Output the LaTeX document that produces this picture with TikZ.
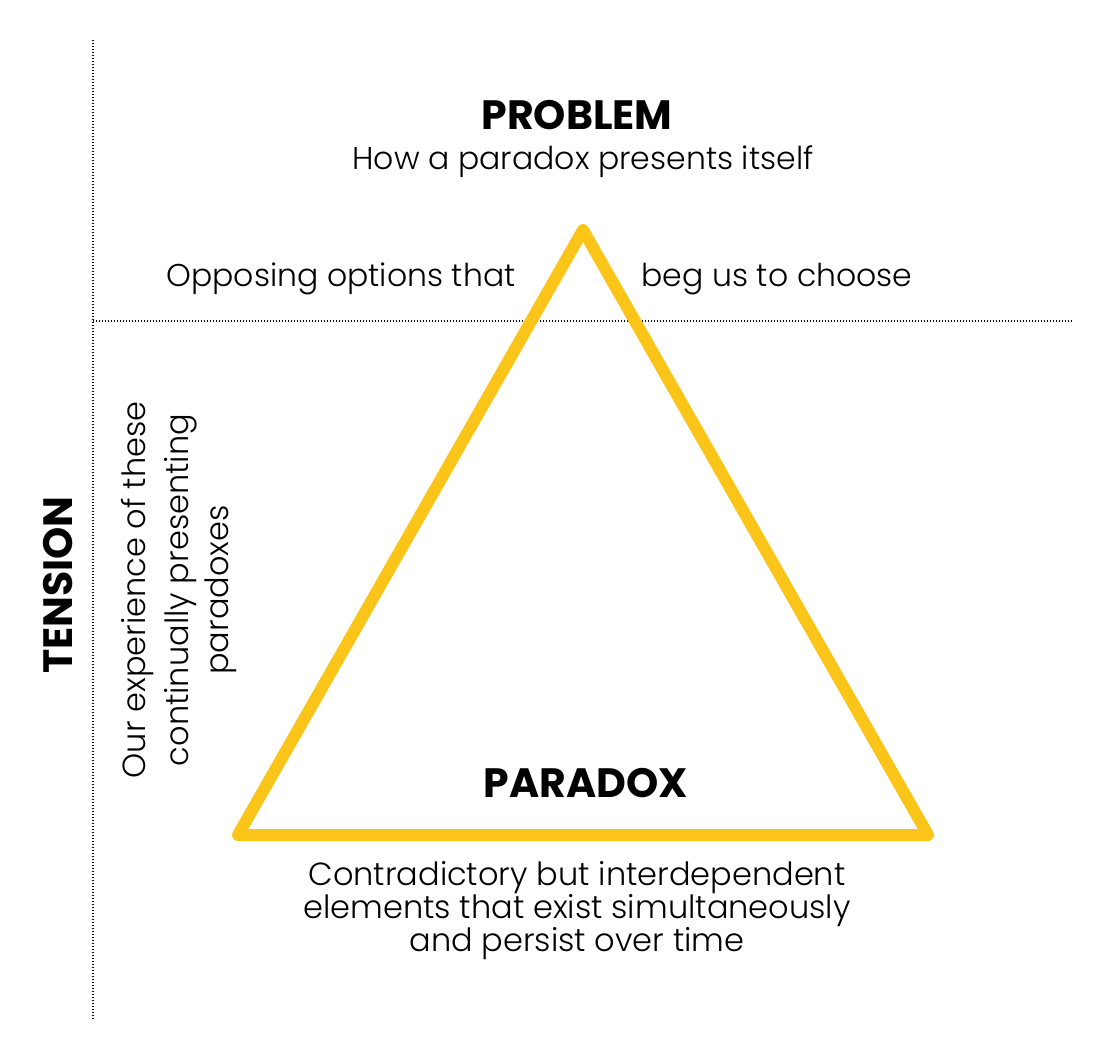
\documentclass[tikz,border=0pt]{standalone}
\usepackage{fontspec}
\setmainfont{Poppins}[UprightFont={* Light}, BoldFont={* Bold}]
\definecolor{triyellow}{RGB}{250,196,24}
\tikzset{
  dotline/.style={line width=1.4pt, dash pattern=on 1.4pt off 1.6pt, black},
  trianglestyle/.style={draw=triyellow, line width=12pt, line join=round, line cap=round},
  headtext/.style={font=\bfseries\fontsize{41}{46}\selectfont, inner sep=0pt, anchor=base},
  bodytext/.style={font=\fontsize{31.5}{36}\selectfont, inner sep=0pt, anchor=base},
  sidetext/.style={font=\fontsize{32}{36}\selectfont, inner sep=0pt, anchor=base, rotate=90},
  bottomtext/.style={font=\fontsize{32}{36}\selectfont, inner sep=0pt, anchor=base},
}
\begin{document}
\begin{tikzpicture}[x=1pt,y=-1pt]
\useasboundingbox[fill=white] (0,0) rectangle (1094,1042);
% dotted axes
\coordinate (vtop) at (93,40);
\coordinate (vbot) at (93,1020);
\coordinate (hleft) at (93,321);
\coordinate (hright) at (1073,321);
\draw[dotline] (vtop) -- (vbot);
\draw[dotline] (hleft) -- (hright);
% triangle
\coordinate (apex) at (583,230);
\coordinate (bl) at (238,835);
\coordinate (br) at (928,835);
\draw[trianglestyle] (apex) -- (bl) -- (br) -- cycle;
% texts
\node[headtext] (problem) at (577,129) {PROBLEM};
\node[bodytext] (problemsub) at (583,169) {How a paradox presents itself};
\node[bodytext] (opposing) at (341,286) {Opposing options that};
\node[bodytext] (beg) at (777,286) {beg us to choose};
\node[headtext, rotate=90] (tension) at (72,585) {TENSION};
\node[sidetext] (side1) at (145,590) {Our experience of these};
\node[sidetext] (side2) at (188,590) {continually presenting};
\node[sidetext] (side3) at (228,590) {paradoxes};
\node[headtext] (paradox) at (586,797) {PARADOX};
\node[bottomtext] (bot1) at (577,885) {Contradictory but interdependent};
\node[bottomtext] (bot2) at (577,918) {elements that exist simultaneously};
\node[bottomtext] (bot3) at (577,951) {and persist over time};
\end{tikzpicture}
\end{document}
